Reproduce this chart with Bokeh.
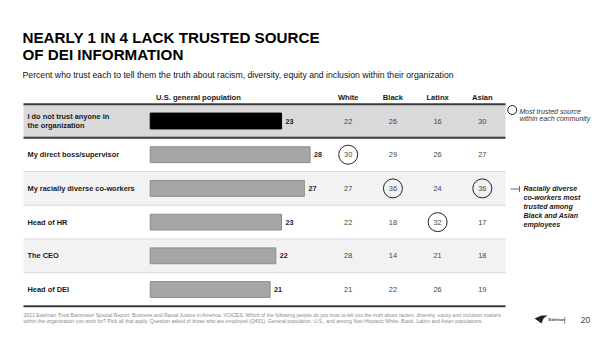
from bokeh.plotting import figure
from bokeh.models import Range1d
from bokeh.core.properties import value
from bokeh.embed import file_html
from bokeh.resources import INLINE

# ---------------- data ----------------
sources = [
    "I do not trust anyone in\nthe organization",
    "My direct boss/supervisor",
    "My racially diverse co-workers",
    "Head of HR",
    "The CEO",
    "Head of DEI",
]
us_general = [23, 28, 27, 23, 22, 21]
groups = ["White", "Black", "Latinx", "Asian"]
white = [22, 30, 27, 22, 28, 21]
black = [26, 29, 36, 18, 14, 22]
latinx = [16, 26, 24, 32, 21, 26]
asian = [30, 27, 36, 17, 18, 19]
group_values = [white, black, latinx, asian]

title_lines = ["NEARLY 1 IN 4 LACK TRUSTED SOURCE", "OF DEI INFORMATION"]
subtitle = ("Percent who trust each to tell them the truth about racism, diversity, "
            "equity and inclusion within their organization")
bar_header = "U.S. general population"
legend_text = "Most trusted source\nwithin each community"
note_text = "Racially diverse\nco-workers most\ntrusted among\nBlack and Asian\nemployees"
footnote = [
    "2021 Edelman Trust Barometer Special Report: Business and Racial Justice in America. VOICES. Which of the following people do you trust to tell you the truth about racism, diversity, equity and inclusion matters",
    "within the organization you work for? Pick all that apply. Question asked of those who are employed (Q431). General population, U.S., and among Non-Hispanic White, Black, Latinx and Asian populations.",
]
page_number = "20"

FONT = value("Liberation Sans")
n = len(sources)
rows = list(range(n))

p = figure(width=600, height=337, x_range=Range1d(0, 600), y_range=Range1d(337, 0),
           output_backend="svg", toolbar_location=None,
           x_axis_location=None, y_axis_location=None, min_border=0,
           outline_line_color=None, background_fill_color="white")
p.grid.visible = False

# scales: value axis for bars, group columns, rows
p.extra_x_ranges = {"val": Range1d(-26.22, 78.86), "col": Range1d(-7.779, 5.644)}
p.extra_y_ranges = {"row": Range1d(6.424, -3.576)}

TL, TR = 23, 505
band_colors = ["#d9d9d9", "#ffffff", "#f2f2f2", "#ffffff", "#f2f2f2", "#ffffff"]
p.hbar(y=rows, left=TL, right=TR, height=1.0, fill_color=band_colors, line_color=None,
       y_range_name="row")

# thin separators
seps = [r + 0.5 for r in rows[1:-1]]
p.segment(x0=[TL] * len(seps), x1=[TR] * len(seps), y0=seps, y1=seps,
          line_color="#d9d9d9", line_width=1, y_range_name="row")
# thick lines around first row and bottom
thick = [-0.5, 0.5, n - 0.5]
p.segment(x0=[TL] * 3, x1=[TR] * 3, y0=thick, y1=thick,
          line_color="#3a3a3a", line_width=2, y_range_name="row")

# row labels
p.text(x=[27] * n, y=rows, text=sources, text_font=FONT, text_font_size="7.4px",
       text_font_style="bold", text_color="#1a1a1a", text_baseline="middle",
       text_align="left", text_line_height=1.05, y_range_name="row")

# bars
bar_fill = ["#000000"] + ["#a6a6a6"] * (n - 1)
bar_line = ["#000000"] + ["#8c8c8c"] * (n - 1)
p.hbar(y=rows, left=0, right=us_general, height=0.47, fill_color=bar_fill,
       line_color=bar_line, x_range_name="val", y_range_name="row")
p.text(x=us_general, y=rows, text=[str(v) for v in us_general], x_offset=4,
       text_font=FONT, text_font_size="7.2px", text_font_style="bold",
       text_color="#222222", text_baseline="middle", text_align="left",
       x_range_name="val", y_range_name="row")

# headers
p.text(x=[198], y=[97], text=[bar_header], text_font=FONT, text_font_size="7.6px",
       text_font_style="bold", text_color="#1a1a1a", text_baseline="middle",
       text_align="center")
p.text(x=list(range(len(groups))), y=[-0.7] * len(groups), text=groups,
       text_font=FONT, text_font_size="7.6px", text_font_style="bold",
       text_color="#1a1a1a", text_baseline="middle", text_align="center",
       x_range_name="col", y_range_name="row")

# group values
gx, gy, gt = [], [], []
cx, cy = [], []
for ci, vals in enumerate(group_values):
    for ri, v in enumerate(vals):
        gx.append(ci); gy.append(ri); gt.append(str(v))
    # most trusted source (excluding "do not trust anyone")
    best = max(range(1, n), key=lambda r: vals[r])
    cx.append(ci); cy.append(best)
p.text(x=gx, y=gy, text=gt, text_font=FONT, text_font_size="7.4px",
       text_color="#444444", text_baseline="middle", text_align="center",
       x_range_name="col", y_range_name="row")
p.scatter(x=cx, y=cy, size=19, marker="circle", fill_color=None, line_color="#222222",
          line_width=1, x_range_name="col", y_range_name="row")

# legend
p.scatter(x=[511.7], y=[109.5], size=9, marker="circle", fill_color=None,
          line_color="#222222", line_width=1)
p.text(x=[519], y=[114.5], text=[legend_text], text_font=FONT, text_font_size="7px",
       text_font_style="italic", text_color="#333333", text_baseline="middle",
       text_align="left", text_line_height=1.1)

# annotation
p.segment(x0=[510], x1=[519], y0=[188.5], y1=[188.5], line_color="#666666", line_width=1)
p.segment(x0=[519], x1=[519], y0=[185.5], y1=[191.5], line_color="#666666", line_width=1)
p.text(x=[523], y=[206.5], text=[note_text], text_font=FONT, text_font_size="7.1px",
       text_font_style="bold italic", text_color="#1a1a1a", text_baseline="middle",
       text_align="left", text_line_height=1.12)

# title + subtitle
p.text(x=[22, 22], y=[37, 54], text=title_lines, text_font=FONT, text_font_size="15.2px",
       text_font_style="bold", text_color="#000000", text_baseline="middle",
       text_align="left")
p.text(x=[22], y=[74], text=[subtitle], text_font=FONT, text_font_size="8.7px",
       text_color="#111111", text_baseline="middle", text_align="left")

# footnote
p.text(x=[23, 23], y=[314, 320.5], text=footnote, text_font=FONT, text_font_size="5.1px",
       text_color="#8a8a8a", text_baseline="middle", text_align="left")

# logo + page number
p.patch(x=[534, 541, 547, 543, 541, 537], y=[318, 315, 315, 318, 323, 320],
        fill_color="#222222", line_color=None)
p.text(x=[548], y=[318.5], text=["Edelman"], text_font=FONT, text_font_size="4px",
       text_font_style="bold", text_color="#444444", text_baseline="middle",
       text_align="left")
p.text(x=[564], y=[319], text=["|"], text_font=FONT, text_font_size="8px",
       text_color="#555555", text_baseline="middle", text_align="center")
p.text(x=[585], y=[319], text=[page_number], text_font=FONT, text_font_size="8.5px",
       text_color="#444444", text_baseline="middle", text_align="center")

open("out.html", "w").write(file_html(p, INLINE))
